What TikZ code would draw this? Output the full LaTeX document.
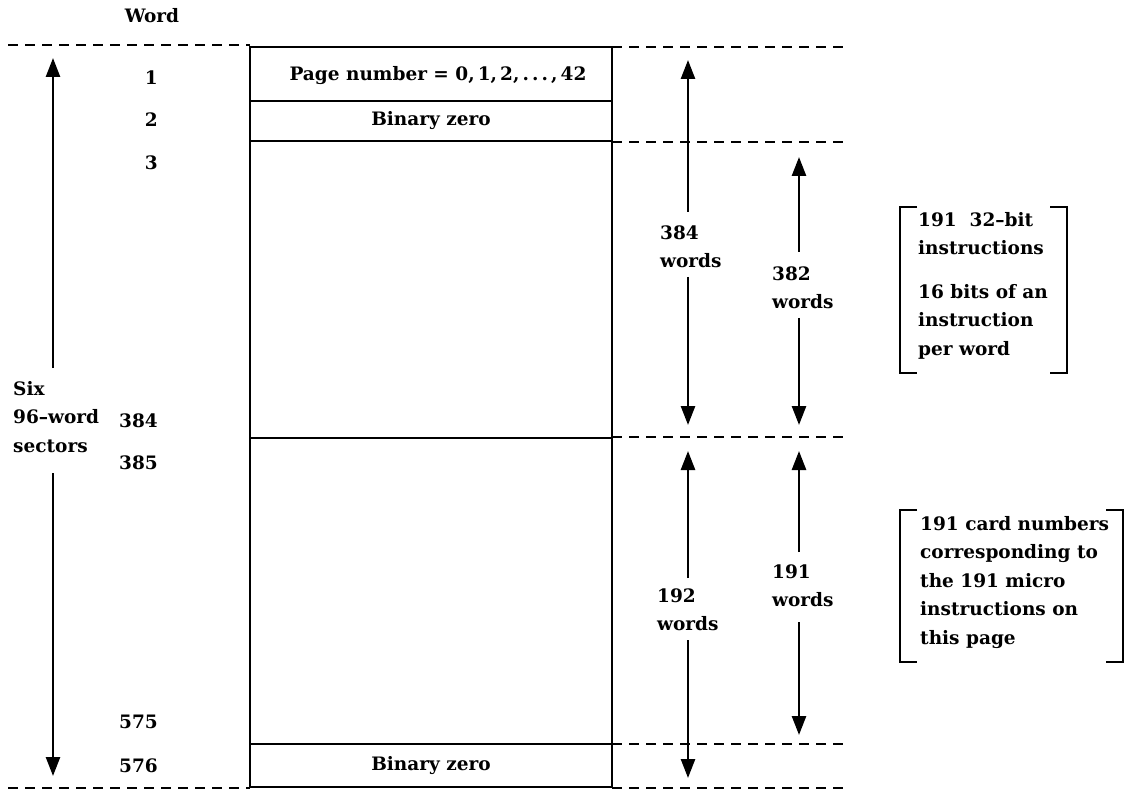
\documentclass[tikz,border=0pt]{standalone}
\usepackage{fontspec}
\setmainfont{DejaVu Serif}
\usetikzlibrary{arrows.meta}
\begin{document}
\begin{tikzpicture}[x=1pt,y=-1pt,
  every node/.style={font=\fontsize{18.5}{28.5}\selectfont\bfseries, inner sep=0pt},
  boxline/.style={line width=2.6pt},
  dashline/.style={line width=2.2pt, dash pattern=on 10pt off 7pt},
  arr/.style={line width=2.6pt, -{Triangle[width=14pt,length=19pt]}},
  brk/.style={line width=2.4pt},
  lbl/.style={align=left, anchor=west},
  num/.style={anchor=east}]
\useasboundingbox (0,0) rectangle (1129,791);
% box
\draw[boxline] (250,47) rectangle (612,787);
\draw[boxline] (250,101) -- (612,101);
\draw[boxline] (250,141) -- (612,141);
\draw[boxline] (250,438) -- (612,438);
\draw[boxline] (250,744) -- (612,744);
\node (pg) at (438,76) {Page number = 0,\,1,\,2,\,.\,.\,.\,,\,42};
\node (bz1) at (431,121) {Binary zero};
\node (bz2) at (431,766) {Binary zero};
% dashed lines
\draw[dashline] (8,45) -- (250,45);
\draw[dashline] (8,788) -- (250,788);
\draw[dashline] (612,47) -- (847,47);
\draw[dashline] (612,142) -- (847,142);
\draw[dashline] (612,437) -- (847,437);
\draw[dashline] (612,744) -- (847,744);
\draw[dashline] (612,788) -- (847,788);
% word numbers
\node (word) at (152,16) {Word};
\node[num] (w1) at (158,78) {1};
\node[num] (w2) at (158,120) {2};
\node[num] (w3) at (158,163) {3};
\node[num] (w384) at (158,421) {384};
\node[num] (w385) at (158,463) {385};
\node[num] (w575) at (158,722) {575};
\node[num] (w576) at (158,766) {576};
% left label and arrow
\node[lbl] (six) at (13,417) {Six\\96–word\\sectors};
\coordinate (la) at (53,368); \coordinate (lat) at (53,58);
\coordinate (lb) at (53,473); \coordinate (lbt) at (53,776);
\draw[arr] (la) -- (lat);
\draw[arr] (lb) -- (lbt);
% right labels
\node[lbl] (r384) at (660,247) {384\\words};
\node[lbl] (r382) at (772,288) {382\\words};
\node[lbl] (r192) at (657,610) {192\\words};
\node[lbl] (r191) at (772,586) {191\\words};
% right arrows
\coordinate (a1) at (688,212); \coordinate (a1t) at (688,60);
\coordinate (a2) at (688,277); \coordinate (a2t) at (688,425);
\coordinate (b1) at (799,252); \coordinate (b1t) at (799,157);
\coordinate (b2) at (799,318); \coordinate (b2t) at (799,425);
\coordinate (c1) at (688,578); \coordinate (c1t) at (688,451);
\coordinate (c2) at (688,640); \coordinate (c2t) at (688,778);
\coordinate (d1) at (799,552); \coordinate (d1t) at (799,451);
\coordinate (d2) at (799,622); \coordinate (d2t) at (799,735);
\draw[arr] (a1) -- (a1t);
\draw[arr] (a2) -- (a2t);
\draw[arr] (b1) -- (b1t);
\draw[arr] (b2) -- (b2t);
\draw[arr] (c1) -- (c1t);
\draw[arr] (c2) -- (c2t);
\draw[arr] (d1) -- (d1t);
\draw[arr] (d2) -- (d2t);
% bracket texts
\node[lbl, anchor=north west] (t1) at (918,212) {191\ \ 32–bit\\instructions};
\node[lbl, anchor=north west] (t2) at (918,284) {16 bits of an\\instruction\\per word};
\node[lbl, anchor=north west] (t3) at (920,516) {191 card numbers\\corresponding to\\the 191 micro\\instructions on\\this page};
% brackets
\draw[brk] (917,207) -- (900,207) -- (900,373) -- (917,373);
\draw[brk] (1050,207) -- (1067,207) -- (1067,373) -- (1050,373);
\draw[brk] (917,510) -- (900,510) -- (900,662) -- (917,662);
\draw[brk] (1106,510) -- (1123,510) -- (1123,662) -- (1106,662);
\end{tikzpicture}
\end{document}
